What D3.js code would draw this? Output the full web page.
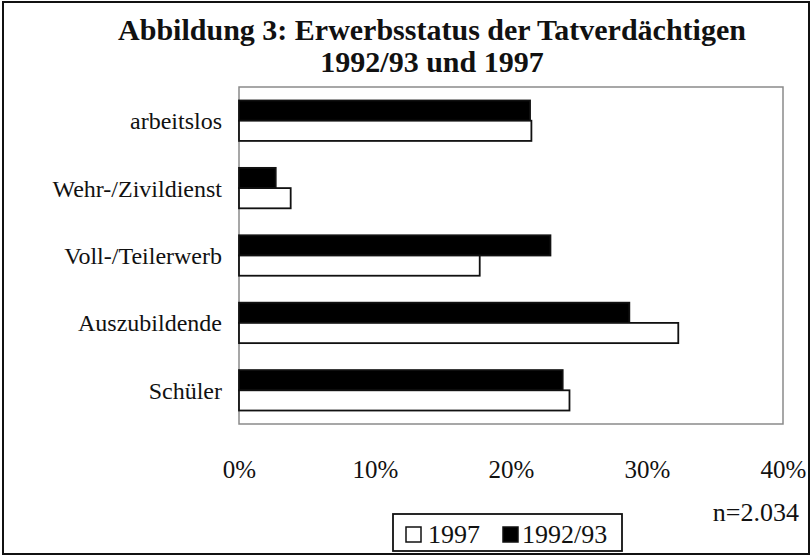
<!DOCTYPE html>
<html>
<head>
<meta charset="utf-8">
<script src="https://cdn.jsdelivr.net/npm/d3@7"></script>
<style>
  body { margin: 0; background: #fff; }
  svg text { font-family: 'Liberation Serif', 'Times New Roman', serif; fill: #111; }
</style>
</head>
<body>
<svg id="chart" width="812" height="557"></svg>
<script>
// categories, top to bottom
var categories = ['arbeitslos', 'Wehr-/Zivildienst', 'Voll-/Teilerwerb', 'Auszubildende', 'Schüler']
var series = ['1992/93', '1997']
// percent values
var values9293 = [21.4, 2.7, 22.9, 28.7, 23.8]
var values1997 = [21.5, 3.8, 17.7, 32.3, 24.3]
var xTicks = [0, 10, 20, 30, 40]
var titleLines = ['Abbildung 3: Erwerbsstatus der Tatverdächtigen', '1992/93 und 1997']

var svg = d3.select('#chart')
var plot = { left: 239, right: 783, top: 87, bottom: 424 }

// outer frame
svg.append('rect')
  .attr('x', 3).attr('y', 2)
  .attr('width', 806).attr('height', 552)
  .attr('fill', 'none')
  .attr('stroke', '#111')
  .attr('stroke-width', 2)

// title
svg.selectAll('.title')
  .data(titleLines).enter()
  .append('text')
  .attr('class', 'title')
  .attr('x', 432)
  .attr('y', function (d, i) { return 40 + i * 32 })
  .attr('text-anchor', 'middle')
  .style('font-size', '30px')
  .style('font-weight', 'bold')
  .text(function (d) { return d })

var x = d3.scaleLinear().domain([0, 40]).range([plot.left, plot.right])
var y = d3.scaleBand().domain(categories).range([plot.top, plot.bottom])
  .paddingInner(0.4).paddingOuter(0.2)
var ySub = d3.scaleBand().domain(series).range([0, y.bandwidth()])
var fills = { '1992/93': '#000', '1997': '#fff' }

// plot area frame
svg.append('rect')
  .attr('x', plot.left).attr('y', plot.top)
  .attr('width', plot.right - plot.left).attr('height', plot.bottom - plot.top)
  .attr('fill', 'none')
  .attr('stroke', '#8a8a8a')
  .attr('stroke-width', 1.5)

var rows = categories.map(function (c, i) {
  return { cat: c, vals: [{ s: '1992/93', v: values9293[i] }, { s: '1997', v: values1997[i] }] }
})

var groups = svg.selectAll('.group')
  .data(rows).enter()
  .append('g')
  .attr('class', 'group')
  .attr('transform', function (d) { return 'translate(0,' + y(d.cat) + ')' })

groups.selectAll('rect')
  .data(function (d) { return d.vals }).enter()
  .append('rect')
  .attr('x', x(0))
  .attr('y', function (d) { return ySub(d.s) })
  .attr('width', function (d) { return x(d.v) - x(0) })
  .attr('height', ySub.bandwidth())
  .attr('fill', function (d) { return fills[d.s] })
  .attr('stroke', '#111')
  .attr('stroke-width', 1.8)

// category labels
svg.selectAll('.cat')
  .data(categories).enter()
  .append('text')
  .attr('class', 'cat')
  .attr('x', 222)
  .attr('y', function (d) { return y(d) + y.bandwidth() / 2 })
  .attr('dy', '0.35em')
  .attr('text-anchor', 'end')
  .style('font-size', '24px')
  .text(function (d) { return d })

// x axis labels only
var xAxis = svg.append('g')
  .attr('transform', 'translate(0,457)')
  .call(d3.axisBottom(x).tickValues(xTicks).tickSize(0).tickFormat(function (d) { return d + '%' }))
xAxis.select('.domain').remove()
xAxis.selectAll('text')
  .style('font-family', "'Liberation Serif', 'Times New Roman', serif")
  .style('font-size', '25px')
  .attr('fill', '#111')

// sample size
svg.append('text')
  .attr('x', 799).attr('y', 521)
  .attr('text-anchor', 'end')
  .style('font-size', '26px')
  .text('n=2.034')

// legend
var legend = svg.append('g')
svg.append('rect')
  .attr('x', 393).attr('y', 514)
  .attr('width', 229).attr('height', 37)
  .attr('fill', 'none')
  .attr('stroke', '#111')
  .attr('stroke-width', 1.8)

var legendItems = [{ s: '1997', x: 406, tx: 428 }, { s: '1992/93', x: 503, tx: 522 }]
legend.selectAll('rect')
  .data(legendItems).enter()
  .append('rect')
  .attr('x', function (d) { return d.x })
  .attr('y', 527)
  .attr('width', 15).attr('height', 15)
  .attr('fill', function (d) { return fills[d.s] })
  .attr('stroke', '#111')
  .attr('stroke-width', 1.5)
legend.selectAll('text')
  .data(legendItems).enter()
  .append('text')
  .attr('x', function (d) { return d.tx })
  .attr('y', 543)
  .style('font-size', '26px')
  .text(function (d) { return d.s })
</script>
</body>
</html>
